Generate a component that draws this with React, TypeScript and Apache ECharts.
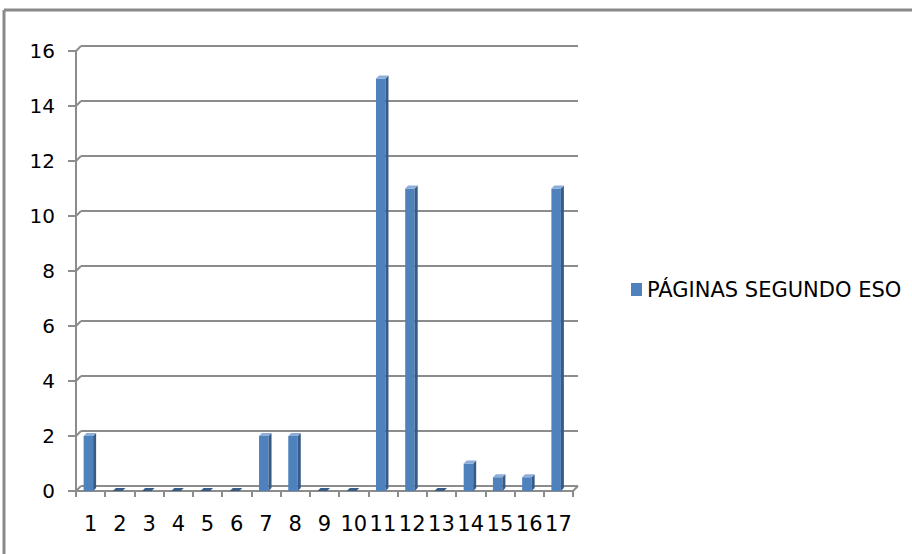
import React, { useEffect, useRef } from "react";
import * as echarts from "echarts";

// Pages per unit, second year of ESO
const categories = ["1", "2", "3", "4", "5", "6", "7", "8", "9", "10", "11", "12", "13", "14", "15", "16", "17"];
const pages = [2, 0, 0, 0, 0, 0, 2, 2, 0, 0, 15, 11, 0, 1, 0.5, 0.5, 11];
const yTicks = [0, 2, 4, 6, 8, 10, 12, 14, 16];
const seriesName = "PÁGINAS SEGUNDO ESO";

const FRONT = "#4F81BD";
const SIDE = "#375B87";
const TOP = "#8DAEDA";
const GRID = "#8c8c8c";
const FONT = "DejaVu Sans";

export default function App() {
  const ref = useRef<HTMLDivElement>(null);

  useEffect(() => {
    document.body.style.margin = "0";
    if (!ref.current) return;
    const chart = echarts.init(ref.current, null, { renderer: "svg" });

    // 3D-looking column: front face, darker right side, lighter top
    const renderBar = (params: any, api: any) => {
      const idx = api.value(0);
      const v = api.value(1);
      const [cx, y] = api.coord([idx, v]);
      const [, y0] = api.coord([idx, 0]);
      const fl = cx - 7;
      const fr = cx + 2.5;
      const d = 3;
      const children: any[] = [];
      if (v > 0) {
        children.push({ type: "rect", shape: { x: fl, y, width: fr - fl, height: y0 - y }, style: { fill: FRONT } });
        children.push({
          type: "polygon",
          shape: { points: [[fr, y], [fr + d, y - d], [fr + d, y0 - d], [fr, y0]] },
          style: { fill: SIDE },
        });
        children.push({
          type: "polygon",
          shape: { points: [[fl, y], [fl + d, y - d], [fr + d, y - d], [fr, y]] },
          style: { fill: TOP },
        });
      } else {
        children.push({
          type: "polygon",
          shape: { points: [[fl, y], [fl + d, y - d], [fr + d, y - d], [fr, y]] },
          style: { fill: SIDE },
        });
      }
      return { type: "group", children };
    };

    // Slanted wall edges joining the front axis to the back gridlines
    const renderWall = (params: any, api: any) => {
      const v = api.value(1);
      const [, y] = api.coord([0, v]);
      const x0 = params.coordSys.x;
      const x1 = params.coordSys.x + params.coordSys.width;
      const children: any[] = [
        { type: "line", shape: { x1: x0, y1: y, x2: x0 + 5, y2: y - 5 }, style: { stroke: GRID, lineWidth: 2 } },
      ];
      if (v === 0) {
        children.push({ type: "line", shape: { x1: x1, y1: y, x2: x1 + 5, y2: y - 5 }, style: { stroke: GRID, lineWidth: 2 } });
      }
      return { type: "group", children };
    };

    chart.setOption({
      animation: false,
      backgroundColor: "#ffffff",
      textStyle: { fontFamily: FONT },
      grid: [
        { left: 76, top: 51, width: 497, height: 440 },
        { left: 81, top: 46, width: 497, height: 440 },
      ],
      xAxis: [
        {
          type: "category",
          gridIndex: 0,
          data: categories,
          boundaryGap: true,
          axisLine: { lineStyle: { color: GRID, width: 2 } },
          axisTick: { show: true, length: 6, lineStyle: { color: GRID, width: 2 } },
          axisLabel: { interval: 0, margin: 22, fontSize: 21, color: "#000", fontFamily: FONT },
          splitLine: { show: false },
        },
        { type: "value", gridIndex: 1, min: 0, max: 1, show: false },
      ],
      yAxis: [
        {
          type: "value",
          gridIndex: 0,
          min: 0,
          max: 16,
          interval: 2,
          axisLine: { show: true, lineStyle: { color: GRID, width: 2 } },
          axisTick: { show: true, length: 8, lineStyle: { color: GRID, width: 2 } },
          axisLabel: { margin: 21, fontSize: 20, color: "#000", fontFamily: FONT },
          splitLine: { show: false },
        },
        {
          type: "value",
          gridIndex: 1,
          min: 0,
          max: 16,
          interval: 2,
          axisLine: { show: false },
          axisTick: { show: false },
          axisLabel: { show: false },
          splitLine: { show: true, lineStyle: { color: GRID, width: 2 } },
        },
      ],
      legend: {
        data: [seriesName],
        left: 626,
        top: 274,
        icon: "rect",
        itemWidth: 11,
        itemHeight: 13,
        itemGap: 8,
        textStyle: { fontSize: 21, color: "#000", fontFamily: FONT },
      },
      series: [
        {
          name: "wall",
          type: "custom",
          xAxisIndex: 0,
          yAxisIndex: 0,
          renderItem: renderWall,
          data: yTicks.map((t) => [0, t]),
          encode: { x: 0, y: 1 },
          silent: true,
          z: 1,
        },
        {
          name: seriesName,
          type: "custom",
          xAxisIndex: 0,
          yAxisIndex: 0,
          renderItem: renderBar,
          itemStyle: { color: FRONT },
          data: pages.map((v, i) => [i, v]),
          encode: { x: 0, y: 1 },
          z: 3,
        },
      ],
      graphic: [
        { type: "line", shape: { x1: 4, y1: 10, x2: 912, y2: 10 }, style: { stroke: "#8a8a8a", lineWidth: 3 }, z: 10 },
        { type: "line", shape: { x1: 4, y1: 10, x2: 4, y2: 554 }, style: { stroke: "#8a8a8a", lineWidth: 3 }, z: 10 },
      ],
    });

    return () => chart.dispose();
  }, []);

  return <div ref={ref} style={{ width: 912, height: 554 }} />;
}
